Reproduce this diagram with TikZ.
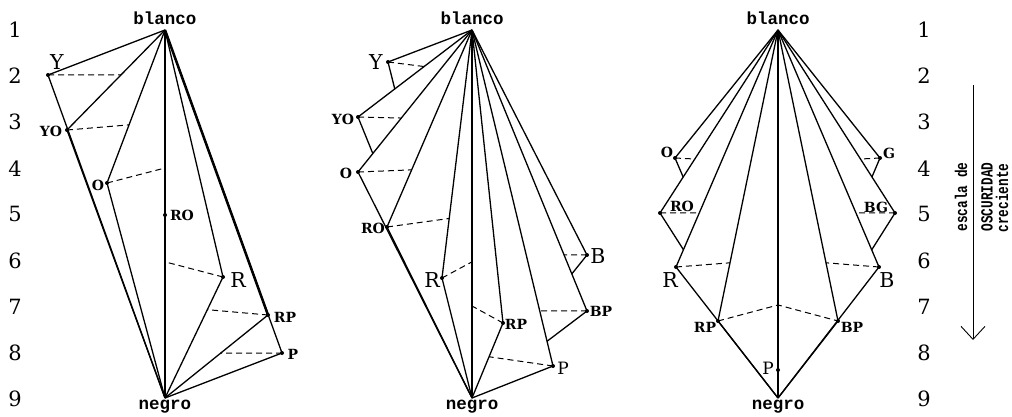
\documentclass[tikz,border=0pt]{standalone}
\usepackage{fontspec}
\setmainfont{DejaVu Serif}
\newfontfamily\typer{Liberation Mono}
\usetikzlibrary{calc,arrows.meta}

\tikzset{
  spoke/.style={line width=1.3pt},
  heavy/.style={line width=2.5pt},
  level/.style={dash pattern=on 6pt off 4pt, line width=1pt},
  num/.style={font=\fontsize{21}{21}\selectfont, inner sep=0pt},
  bighue/.style={font=\fontsize{20.5}{20.5}\selectfont, inner sep=0pt},
  midhue/.style={font=\fontsize{17}{17}\selectfont, inner sep=0pt},
  hue/.style={font=\bfseries\fontsize{14}{14}\selectfont, inner sep=0pt},
  pole/.style={font=\typer\bfseries\fontsize{17.5}{17.5}\selectfont, inner sep=0pt, anchor=base},
  scaletxt/.style={font=\typer\bfseries\fontsize{17}{17}\selectfont, inner sep=0pt, rotate=90, xscale=0.75}
}

\begin{document}
\begin{tikzpicture}[x=1pt,y=-1pt]
\useasboundingbox (0,0) rectangle (1012,417);

% escalas 1..9
\foreach \k in {1,...,9}{
  \node[num] (nl\k) at (15,{30+46.1*(\k-1)}) {\k};
  \node[num] (nr\k) at (924,{30+46.1*(\k-1)}) {\k};
}

% primer diagrama
\coordinate (bl1) at (165,30);
\coordinate (ng1) at (165,398);
\coordinate (Y1) at (48,75);
\coordinate (YO1) at (67,130);
\coordinate (O1) at (107,183);
\coordinate (RO1) at (165,215);
\coordinate (R1) at (223,277);
\coordinate (RP1) at (268,315);
\coordinate (P1) at (282,353);
\foreach \h in {Y1,YO1,O1,R1,RP1,P1}
  \draw[spoke] (bl1) -- (\h) -- (ng1);
\draw[spoke] (bl1) -- (ng1);
\draw[heavy] (bl1) -- (RP1);
\draw[level] (Y1) -- ($(bl1)!0.45!(YO1)$);
\draw[level] (YO1) -- ($(bl1)!0.62!(O1)$);
\draw[level] (O1) -- ($(bl1)!0.375!(ng1)$);
\draw[level] (R1) -- ($(bl1)!0.63!(ng1)$);
\draw[level] (RP1) -- ($(R1)!0.27!(ng1)$);
\draw[level] (P1) -- ($(RP1)!0.46!(ng1)$);
\foreach \h in {Y1,YO1,O1,RO1,R1,RP1,P1}
  \fill (\h) circle (2);
\node[pole] (tb1) at (165,25) {blanco};
\node[pole] (tn1) at (165,409) {negro};
\node[bighue] (lY1) at (57,62) {Y};
\node[hue] (lYO1) at (51,131) {YO};
\node[hue] (lO1) at (98,185) {O};
\node[hue] (lRO1) at (182,215) {RO};
\node[bighue] (lR1) at (238,280) {R};
\node[hue] (lRP1) at (285,317) {RP};
\node[hue] (lP1) at (293,354) {P};

% segundo diagrama
\coordinate (bl2) at (472,30);
\coordinate (ng2) at (472,398);
\coordinate (Y2) at (388,62);
\coordinate (YO2) at (358,117);
\coordinate (O2) at (358,172);
\coordinate (RO2) at (387,227);
\coordinate (R2) at (442,278);
\coordinate (RP2) at (503,323);
\coordinate (P2) at (553,366);
\coordinate (BP2) at (587,311);
\coordinate (B2) at (587,255);
\foreach \h in {Y2,YO2,O2,RO2,R2,RP2,P2,BP2,B2}
  \draw[spoke] (bl2) -- (\h);
\foreach \h in {O2,RO2,R2,RP2,P2}
  \draw[spoke] (\h) -- (ng2);
\draw[spoke] (bl2) -- (ng2);
\draw[spoke] (Y2) -- (intersection of Y2--ng2 and bl2--YO2);
\draw[spoke] (YO2) -- (intersection of YO2--ng2 and bl2--O2);
\draw[spoke] (BP2) -- (intersection of BP2--ng2 and bl2--P2);
\draw[spoke] (B2) -- (intersection of B2--ng2 and bl2--BP2);
\draw[level] (Y2) -- ($(bl2)!0.42!(YO2)$);
\draw[level] (YO2) -- ($(bl2)!0.62!(O2)$);
\draw[level] (O2) -- ($(bl2)!0.71!(RO2)$);
\draw[level] (RO2) -- ($(bl2)!0.76!(R2)$);
\draw[level] (R2) -- ($(bl2)!0.63!(ng2)$);
\draw[level] (RP2) -- ($(bl2)!0.75!(ng2)$);
\draw[level] (P2) -- ($(RP2)!0.45!(ng2)$);
\draw[level] (BP2) -- ($(bl2)!0.836!(P2)$);
\draw[level] (B2) -- ($(bl2)!0.80!(BP2)$);
\foreach \h in {Y2,YO2,O2,RO2,R2,RP2,P2,BP2,B2}
  \fill (\h) circle (2);
\node[pole] (tb2) at (472,25) {blanco};
\node[pole] (tn2) at (472,409) {negro};
\node[bighue] (lY2) at (376,62) {Y};
\node[hue] (lYO2) at (343,119) {YO};
\node[hue] (lO2) at (346,173) {O};
\node[hue] (lRO2) at (373,228) {RO};
\node[bighue] (lR2) at (432,280) {R};
\node[hue] (lRP2) at (516,324) {RP};
\node[midhue] (lP2) at (563,368) {P};
\node[hue] (lBP2) at (601,311) {BP};
\node[bighue] (lB2) at (598,256) {B};

% tercer diagrama
\coordinate (bl3) at (778,30);
\coordinate (ng3) at (778,398);
\coordinate (O3) at (675,158);
\coordinate (RO3) at (660,213);
\coordinate (R3) at (676,267);
\coordinate (RP3) at (718,321);
\coordinate (P3) at (778,370);
\coordinate (BP3) at (838,321);
\coordinate (B3) at (879,267);
\coordinate (BG3) at (895,213);
\coordinate (G3) at (880,158);
\coordinate (m3) at (778,305);
\foreach \h in {O3,RO3,R3,RP3,BP3,B3,BG3,G3}
  \draw[spoke] (bl3) -- (\h);
\foreach \h in {R3,RP3,BP3,B3}
  \draw[spoke] (\h) -- (ng3);
\draw[spoke] (bl3) -- (ng3);
\draw[spoke] (O3) -- (intersection of O3--ng3 and bl3--RO3);
\draw[spoke] (RO3) -- (intersection of RO3--ng3 and bl3--R3);
\draw[spoke] (BG3) -- (intersection of BG3--ng3 and bl3--B3);
\draw[spoke] (G3) -- (intersection of G3--ng3 and bl3--BG3);
\draw[level] (O3) -- ($(bl3)!0.705!(RO3)$);
\draw[level] (RO3) -- ($(bl3)!0.772!(R3)$);
\draw[level] (R3) -- ($(bl3)!0.80!(RP3)$);
\draw[level] (RP3) -- (m3) -- (BP3);
\draw[level] (B3) -- ($(bl3)!0.80!(BP3)$);
\draw[level] (BG3) -- ($(bl3)!0.772!(B3)$);
\draw[level] (G3) -- ($(bl3)!0.705!(BG3)$);
\foreach \h in {O3,RO3,R3,RP3,P3,BP3,B3,BG3,G3}
  \fill (\h) circle (2);
\node[pole] (tb3) at (778,25) {blanco};
\node[pole] (tn3) at (778,409) {negro};
\node[hue] (lO3) at (667,152) {O};
\node[hue] (lRO3) at (682,206) {RO};
\node[bighue] (lR3) at (670,280) {R};
\node[hue] (lRP3) at (705,327) {RP};
\node[midhue] (lP3) at (768,368) {P};
\node[hue] (lBP3) at (852,327) {BP};
\node[bighue] (lB3) at (887,280) {B};
\node[hue] (lBG3) at (876,207) {BG};
\node[hue] (lG3) at (889,153) {G};

% flecha de oscuridad
\coordinate (s0) at (973,85);
\coordinate (s1) at (973,340);
\draw[line width=0.9pt, -{Straight Barb[length=13pt,width=24pt]}] (s0) -- (s1);
\node[scaletxt] (esc) at (961,197) {escala de};
\node[scaletxt] (osc) at (987,197) {OSCURIDAD};
\node[scaletxt] (cre) at (1002,198) {creciente};
\end{tikzpicture}
\end{document}
